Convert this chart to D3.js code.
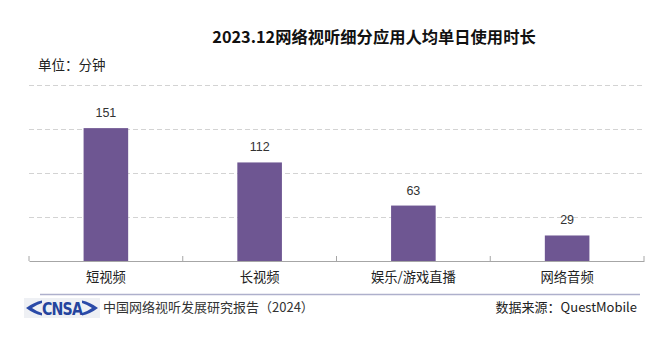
<!DOCTYPE html>
<html><head><meta charset="utf-8">
<script src="https://cdn.jsdelivr.net/npm/d3@7"></script>
<style>
html,body{margin:0;padding:0;background:#fff;}
svg{display:block;font-family:"Noto Sans CJK SC","Noto Sans",sans-serif;}
</style></head>
<body><svg id="c" width="661" height="350"></svg>
<script>
const categories = ["短视频","长视频","娱乐/游戏直播","网络音频"];
const values = [151,112,63,29];
const yTicks = [50,100,150,200];
const title = "2023.12网络视听细分应用人均单日使用时长";
const unitLabel = "单位：分钟";
const footerLeft = "中国网络视听发展研究报告（2024）";
const footerRight = "数据来源：QuestMobile";

const svg = d3.select("#c");
const x = d3.scaleBand().domain(categories).range([29,644]).padding(0);
const y = d3.scaleLinear().domain([0,200]).range([261,85]);

// title
svg.append("text").attr("x",374).attr("y",43).attr("text-anchor","middle")
  .attr("font-size",16.3).attr("font-weight","bold").attr("fill","#111").text(title);
svg.append("text").attr("x",38).attr("y",70).attr("font-size",13.5).attr("fill","#222").text(unitLabel);

// gridlines
svg.append("g").selectAll("line").data(yTicks).join("line")
  .attr("x1",29).attr("x2",644).attr("y1",d=>y(d)+0.5).attr("y2",d=>y(d)+0.5)
  .attr("stroke","#d3d3d3").attr("stroke-width",1).attr("stroke-dasharray","5,3");

// bars
const bw = x.bandwidth()*0.29;
svg.append("g").selectAll("rect").data(values).join("rect")
  .attr("x",(d,i)=>x(categories[i])+x.bandwidth()/2-bw/2)
  .attr("width",bw)
  .attr("y",d=>y(d)).attr("height",d=>y(0)-y(d))
  .attr("fill","#6e5692");

// value labels
svg.append("g").selectAll("text").data(values).join("text")
  .attr("x",(d,i)=>x(categories[i])+x.bandwidth()/2)
  .attr("y",d=>y(d)-11)
  .attr("text-anchor","middle").attr("font-size",12.5)
  .attr("font-family","'Liberation Sans',Arial,sans-serif")
  .attr("fill","#333").text(d=>d);

// x axis
const axis = d3.axisBottom(x).tickSize(0).tickPadding(12);
const gx = svg.append("g").attr("transform","translate(0,261)").call(axis);
gx.select(".domain").attr("stroke","#a6a6a6").attr("stroke-width",1.2);
gx.selectAll("text").attr("font-size",13.3).attr("fill","#222")
  .attr("font-family","'Noto Sans CJK SC',sans-serif");
const bounds = categories.map(c=>x(c)).concat([x.range()[1]]);
gx.selectAll("line.bd").data(bounds).join("line").attr("class","bd")
  .attr("x1",d=>d).attr("x2",d=>d).attr("y1",0).attr("y2",-5)
  .attr("stroke","#a6a6a6").attr("stroke-width",1);

// footer line
svg.append("line").attr("x1",40).attr("x2",640).attr("y1",294.5).attr("y2",294.5)
  .attr("stroke","#aeb0cc").attr("stroke-width",1.5);

// logo
const logo = svg.append("g").attr("transform","translate(24,298)");
logo.append("rect").attr("x",0).attr("y",0).attr("width",76).attr("height",20).attr("fill","#eef0f4");
logo.append("path").attr("d","M2,10 Q10,4 18,2.5 L18,5 Q12,7 8,10 Q12,13 18,15 L18,17.5 Q10,16 2,10 Z").attr("fill","#2a4aa8");
logo.append("path").attr("d","M74,10 Q66,4 58,2.5 L58,5 Q64,7 68,10 Q64,13 58,15 L58,17.5 Q66,16 74,10 Z").attr("fill","#2a4aa8");
logo.append("text").attr("x",38).attr("y",16.5).attr("text-anchor","middle")
  .attr("font-size",17).attr("font-weight","900")
  .attr("font-family","'DejaVu Sans',sans-serif").attr("letter-spacing",-1)
  .attr("textLength",40).attr("lengthAdjust","spacingAndGlyphs")
  .attr("fill","#24449e").text("CNSA");

svg.append("text").attr("x",103).attr("y",312).attr("font-size",13).attr("fill","#333").text(footerLeft);
svg.append("text").attr("x",637).attr("y",312).attr("text-anchor","end").attr("font-size",13).attr("fill","#222").text(footerRight);
</script></body></html>
